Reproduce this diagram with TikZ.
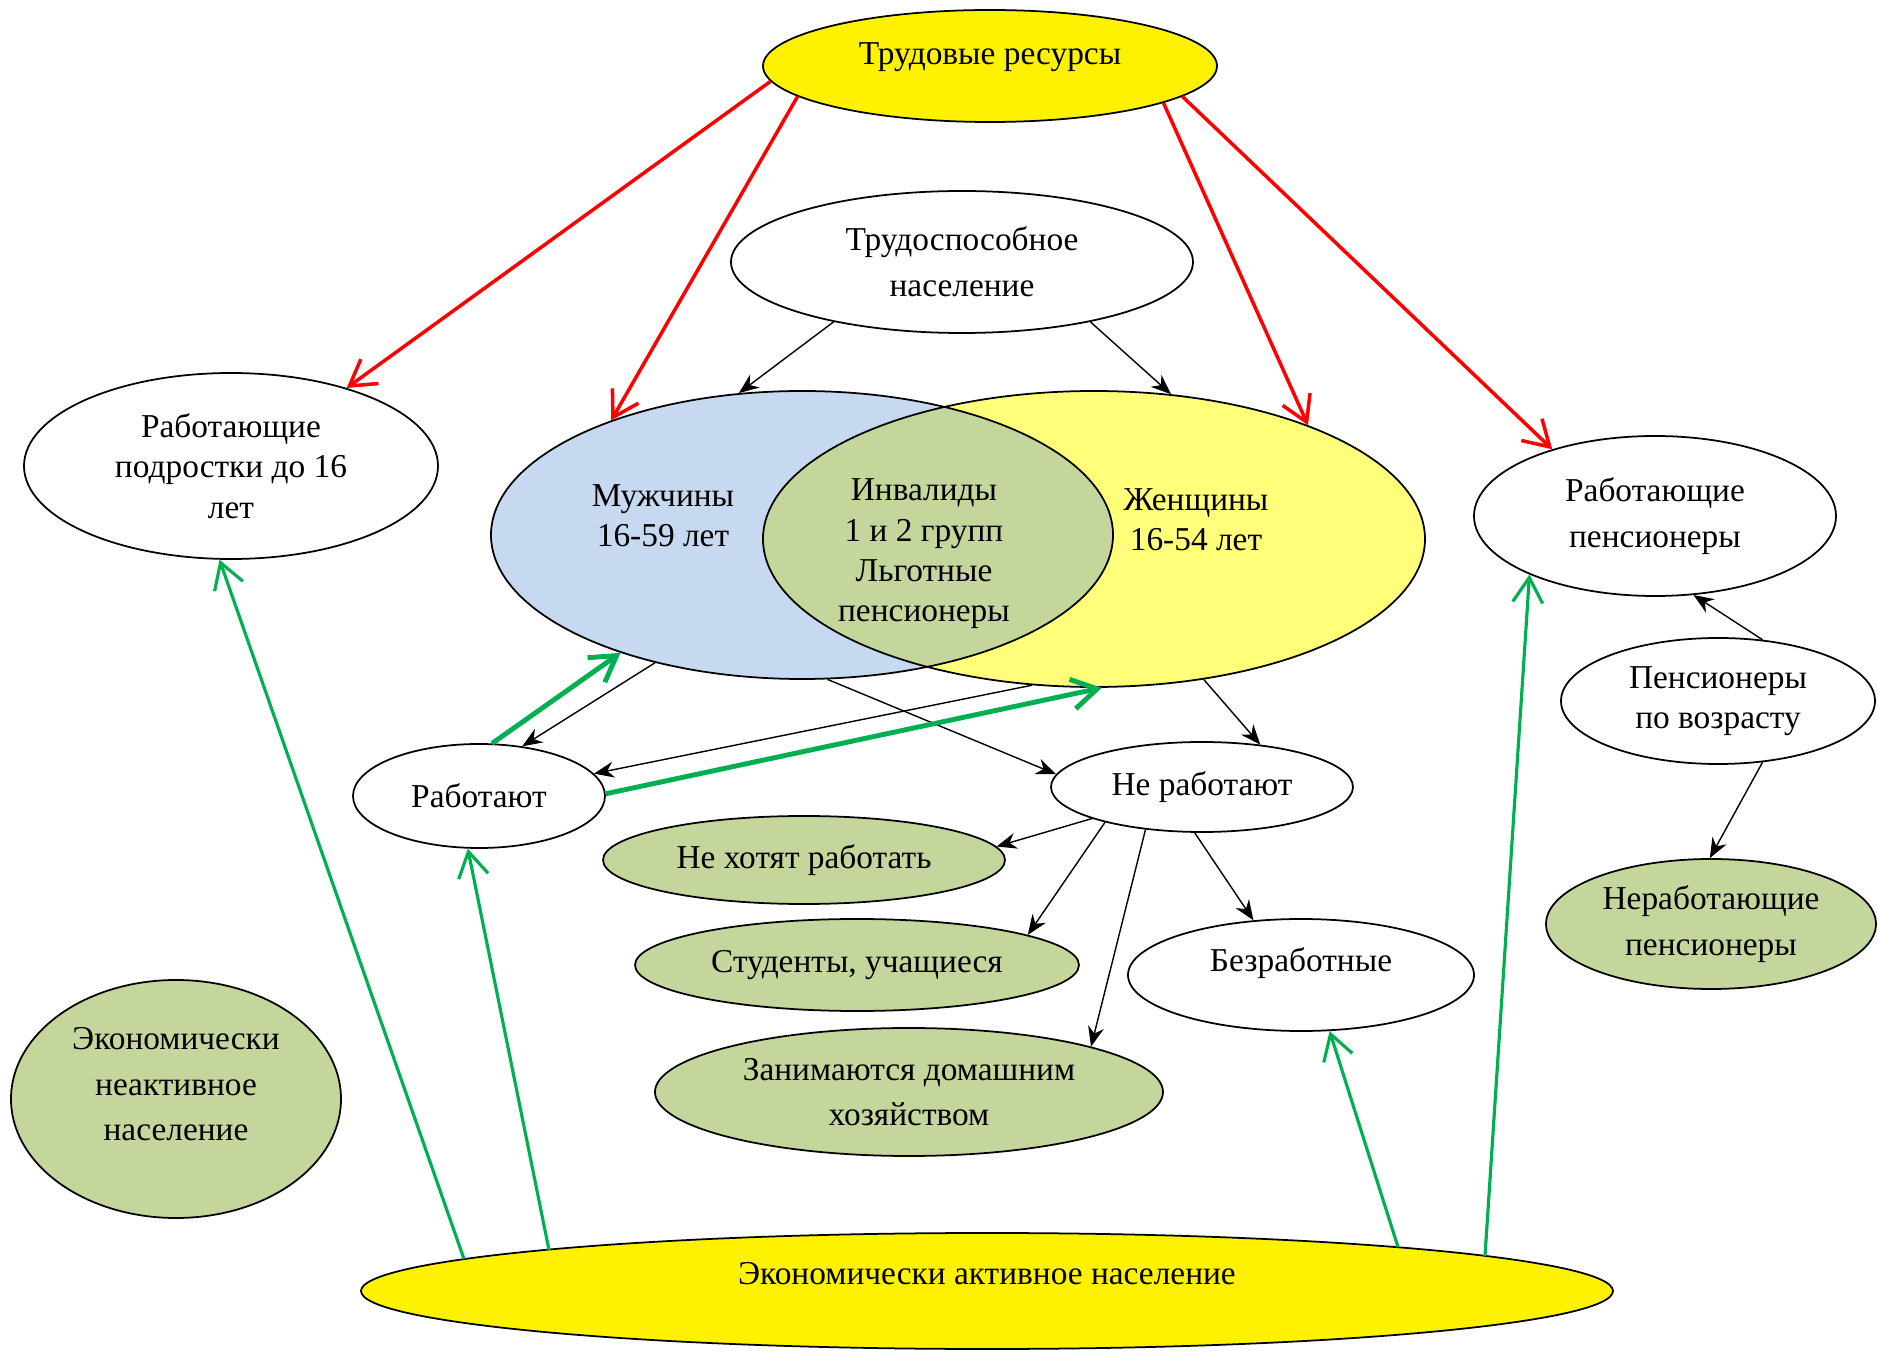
\documentclass[tikz,border=0pt]{standalone}
\usepackage{fontspec}
\setmainfont{Liberation Serif}
\usetikzlibrary{calc, shapes.geometric, arrows.meta}
\definecolor{venblue}{RGB}{198,217,240}
\definecolor{venyellow}{RGB}{255,255,122}
\definecolor{olivefill}{RGB}{196,214,155}
\definecolor{arrgreen}{RGB}{0,176,80}

\begin{document}
\begin{tikzpicture}[
    font=\fontsize{9.5}{11.5}\selectfont,
    ell/.style={draw, ellipse, inner sep=0pt, align=center, line width=0.5pt},
    loose/.style={font=\fontsize{9.5}{13}\selectfont},
    raised/.style={text depth=#1},
    redarr/.style={red, line width=1pt, -{Straight Barb[length=2.5mm, width=3mm]}},
    blackarr/.style={black, line width=0.4pt, -{Stealth[length=2mm, width=1.6mm]}},
    grarr/.style={arrgreen, line width=0.9pt, -{Straight Barb[length=2.5mm, width=3mm]}},
    grthick/.style={arrgreen, line width=1.4pt, -{Straight Barb[length=2.5mm, width=3mm]}}
]
    \useasboundingbox (0,0) rectangle (18.78,13.5);

    \coordinate (M) at (8.02,8.15);
    \coordinate (W) at (10.94,8.11);

    \fill[venblue] (M) ellipse (3.11 and 1.44);
    \fill[venyellow] (W) ellipse (3.31 and 1.48);
    \begin{scope}
        \clip (M) ellipse (3.11 and 1.44);
        \fill[olivefill] (W) ellipse (3.31 and 1.48);
    \end{scope}

    \node[ell, minimum width=6.22cm, minimum height=2.88cm] (muzh) at (M) {};
    \node[ell, minimum width=6.62cm, minimum height=2.96cm] (zhen) at (W) {};
    \node[align=center] (muzhtxt) at (6.63,8.34) {Мужчины\\16-59 лет};
    \node[align=center] (invtxt) at (9.24,7.96) {Инвалиды\\1 и 2 групп\\Льготные\\пенсионеры};
    \node[align=center] (zhentxt) at (11.96,8.30) {Женщины\\16-54 лет};

    \node[ell, raised=0.25cm, fill=yellow, minimum width=4.54cm, minimum height=1.12cm] (tr) at (9.90,12.84) {Трудовые ресурсы};
    \node[ell, loose, minimum width=4.62cm, minimum height=1.42cm] (ts) at (9.62,10.88) {Трудоспособное\\население};
    \node[ell, minimum width=4.14cm, minimum height=1.86cm] (podr) at (2.31,8.84) {Работающие\\подростки до 16\\лет};
    \node[ell, loose, minimum width=3.62cm, minimum height=1.60cm] (rabpens) at (16.55,8.34) {Работающие\\пенсионеры};
    \node[ell, minimum width=3.14cm, minimum height=1.26cm] (pensvoz) at (17.18,6.49) {Пенсионеры\\по возрасту};
    \node[ell, loose, fill=olivefill, minimum width=3.30cm, minimum height=1.30cm] (nerabpens) at (17.11,4.26) {Неработающие\\пенсионеры};
    \node[ell, minimum width=2.52cm, minimum height=1.04cm] (rab) at (4.79,5.54) {Работают};
    \node[ell, minimum width=3.02cm, minimum height=0.90cm] (nerab) at (12.02,5.63) {Не работают};
    \node[ell, fill=olivefill, minimum width=4.02cm, minimum height=0.88cm] (nehot) at (8.04,4.90) {Не хотят работать};
    \node[ell, fill=olivefill, minimum width=4.44cm, minimum height=0.92cm] (stud) at (8.57,3.85) {Студенты, учащиеся};
    \node[ell, raised=0.3cm, minimum width=3.46cm, minimum height=1.12cm] (bezr) at (13.01,3.75) {Безработные};
    \node[ell, loose, fill=olivefill, minimum width=5.08cm, minimum height=1.28cm] (dom) at (9.09,2.58) {Занимаются домашним\\хозяйством};
    \node[ell, loose, raised=0.3cm, fill=olivefill, minimum width=3.30cm, minimum height=2.38cm] (neakt) at (1.76,2.51) {Экономически\\неактивное\\население};
    \node[ell, raised=0.35cm, fill=yellow, minimum width=12.52cm, minimum height=1.16cm] (akt) at (9.87,0.59) {Экономически активное население};

    \draw[redarr] (tr.184) -- (podr.34);
    \draw[redarr] (tr.189) -- (muzh.149);
    \draw[redarr] (tr.348) -- (zhen.28);
    \draw[redarr] (tr.351) -- (rabpens.147);

    \draw[blackarr] (ts.205) -- (muzh.114);
    \draw[blackarr] (ts.335) -- (zhen.62);
    \draw[blackarr] (muzh.221) -- (rab.49);
    \draw[blackarr] (zhen.247) -- (rab.11);
    \draw[blackarr] (muzh.280) -- (nerab.175);
    \draw[blackarr] (zhen.308) -- (nerab.36);
    \draw[blackarr] (nerab.196) -- (nehot.4);
    \draw[blackarr] (nerab.200) -- (stud.10);
    \draw[blackarr] (nerab.217) -- (dom.14);
    \draw[blackarr] (nerab.261) -- (bezr.131);
    \draw[blackarr] (pensvoz.54) -- (rabpens.296);
    \draw[blackarr] (pensvoz.306) -- (nerabpens.91);

    \draw[grthick] (rab.76) -- (muzh.213);
    \draw[grthick] (rab.1) -- (zhen.273);
    \draw[grarr] ($(akt.center)+(-5.23,0.32)$) -- (podr.263);
    \draw[grarr] ($(akt.center)+(-4.38,0.41)$) -- (rab.258);
    \draw[grarr] ($(akt.center)+(4.11,0.44)$) -- (bezr.297);
    \draw[grarr] ($(akt.center)+(4.98,0.35)$) -- (rabpens.205);
\end{tikzpicture}
\end{document}
